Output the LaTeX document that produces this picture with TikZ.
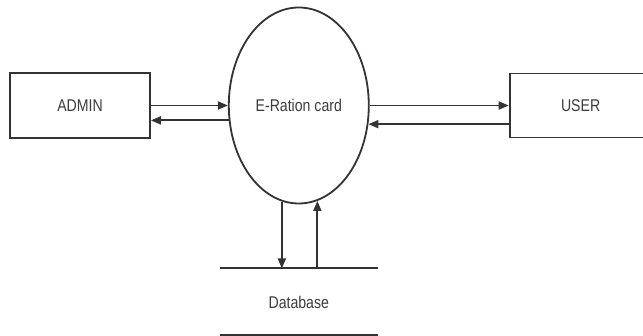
\documentclass[tikz,border=0pt]{standalone}
\usepackage{fontspec}
\setmainfont{Liberation Sans}[FakeStretch=0.83]
\usetikzlibrary{shapes.geometric,positioning,arrows.meta}
\definecolor{inkgray}{HTML}{333333}
\definecolor{textgray}{HTML}{3C3C3C}

\begin{document}
\begin{tikzpicture}[x=1pt, y=-1pt, line width=1.8pt, draw=inkgray,
    >={Triangle[length=10pt,width=8pt]},
    entity/.style = {draw=inkgray, rectangle, minimum width=140pt, minimum height=65pt, inner sep=0pt},
    process/.style = {draw=inkgray, ellipse, minimum width=140pt, minimum height=196pt, inner sep=0pt},
    store/.style = {rectangle, minimum width=156pt, minimum height=66pt, inner sep=0pt},
    every node/.style = {text=textgray, font=\fontsize{17}{20}\selectfont}]
    \useasboundingbox (0,0) rectangle (643,336);
    \clip (0,0) rectangle (643,336);
            \node[entity] (admin) at (80,105.5) {ADMIN};
            \node[process] (card) [right=77pt of admin] {E-Ration card};
            \node[entity, minimum width=142pt, minimum height=64pt] (user) [right=139pt of card] {USER};
            \node[store] (db) [below=64pt of card] {Database};
            % data store lines
            \draw[inkgray] (db.north west) -- (db.north east);
            \draw[inkgray, line width=3.5pt] (db.south west) -- (db.south east);
            % flows
            \draw[inkgray, ->] (admin.east) -- (card.west);
            \draw[inkgray, ->] (card.192) -- (card.192 -| admin.east);
            \draw[inkgray, ->] (card.east) -- (card.east -| user.west);
            \draw[inkgray, ->] (card.-15.5 -| user.west) -- (card.-15.5);
            \draw[inkgray, ->] (card.260) -- (card.260 |- db.north);
            \draw[inkgray, ->] (card.281 |- db.north) -- (card.281);
        \end{tikzpicture}
\end{document}
